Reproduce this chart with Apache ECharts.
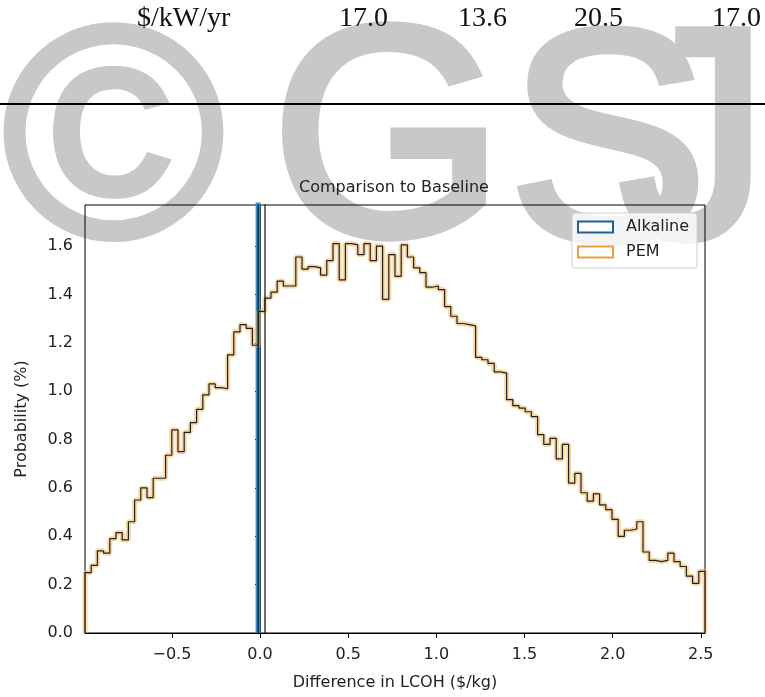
<!DOCTYPE html>
<html>
<head>
<meta charset="utf-8">
<script src="https://cdn.jsdelivr.net/npm/echarts@6/dist/echarts.min.js"></script>
<style>
  html, body { margin: 0; padding: 0; background: #fff; }
  #chart { width: 765px; height: 697px; }
</style>
</head>
<body>
<div id="chart"></div>
<script>
"use strict";

// top table row (cut off from the page above)
var tableCells = ["$/kW/yr", "17.0", "13.6", "20.5", "17.0"];
var tableLeft = [137, 339, 458, 574, 712];

// PEM histogram, probability (%) per bin
var pemStart = -0.993;
var pemBinWidth = 0.03517;
var pemValues = [
  0.25, 0.28, 0.34, 0.33, 0.39, 0.415, 0.385, 0.46, 0.55, 0.60,
  0.56, 0.64, 0.64, 0.735, 0.84, 0.75, 0.83, 0.87, 0.925, 0.985,
  1.03, 1.015, 1.01, 1.15, 1.245, 1.275, 1.26, 1.19, 1.33, 1.385,
  1.41, 1.455, 1.435, 1.435, 1.555, 1.505, 1.515, 1.51, 1.48, 1.54,
  1.61, 1.46, 1.61, 1.605, 1.565, 1.61, 1.54, 1.60, 1.38, 1.565,
  1.475, 1.605, 1.555, 1.51, 1.49, 1.43, 1.435, 1.42, 1.35, 1.31,
  1.28, 1.275, 1.27, 1.14, 1.13, 1.115, 1.08, 1.075, 0.965, 0.94,
  0.93, 0.915, 0.895, 0.82, 0.78, 0.805, 0.72, 0.78, 0.62, 0.66,
  0.58, 0.545, 0.575, 0.53, 0.51, 0.47, 0.40, 0.425, 0.43, 0.46,
  0.335, 0.30, 0.295, 0.30, 0.33, 0.295, 0.275, 0.235, 0.205, 0.255
];

// Alkaline = baseline, so all of it sits in one bin at 0
var alkalineEdges = [-0.011, 0.028];
var alkalineValue = 100;

var xTicks = [-0.5, 0.0, 0.5, 1.0, 1.5, 2.0, 2.5];
var yTicks = [0.0, 0.2, 0.4, 0.6, 0.8, 1.0, 1.2, 1.4, 1.6];
var xMax = 2.524;
var yMax = 1.77;

var FONT = "DejaVu Sans";

var chart = echarts.init(document.getElementById("chart"));

// histogram outline points (step: 'end')
function stepData(start, width, values) {
  var pts = [[start, 0]];
  values.forEach(function (v, i) {
    pts.push([start + i * width, v]);
  });
  var end = start + values.length * width;
  pts.push([end, values[values.length - 1]]);
  pts.push([end, 0]);
  return pts;
}

var pemData = stepData(pemStart, pemBinWidth, pemValues);
var alkData = [
  [alkalineEdges[0], 0], [alkalineEdges[0], alkalineValue],
  [alkalineEdges[1], alkalineValue], [alkalineEdges[1], 0]
];
var alkLeft = [[alkalineEdges[0], 0], [alkalineEdges[0], alkalineValue]];

function fmt(v) {
  return (v < 0 ? "\u2212" : "") + Math.abs(v).toFixed(1);
}

// watermark letters + table text
var graphics = [];
[["\u00A9", 3, 3], ["G", 271, 2], ["S", 508, 6], ["J", 619, 4]].forEach(function (w) {
  graphics.push({
    type: "text", z: -10, silent: true,
    x: w[1], y: w[2],
    style: {
      text: w[0], font: '300px "Liberation Sans"', fill: "#c8c8c8",
      stroke: "#c8c8c8", lineWidth: 8, verticalAlign: "top"
    }
  });
});
tableCells.forEach(function (t, i) {
  graphics.push({
    type: "text", z: 5, silent: true,
    x: tableLeft[i], y: 5,
    style: { text: t, font: '28px "Liberation Serif"', fill: "#111", verticalAlign: "top" }
  });
});
graphics.push({
  type: "line", z: 5, silent: true,
  shape: { x1: 0, y1: 104, x2: 765, y2: 104 },
  style: { stroke: "#000", lineWidth: 2 }
});

var option = {
  animation: false,
  backgroundColor: "#fff",
  graphic: graphics,
  title: {
    text: "Comparison to Baseline",
    left: 394, top: 180, textAlign: "center", padding: 0,
    textStyle: { fontFamily: FONT, fontSize: 16, fontWeight: "normal", color: "#222" }
  },
  legend: {
    left: 572, top: 213,
    orient: "vertical",
    padding: [6, 8, 8, 5],
    itemGap: 9,
    itemWidth: 35, itemHeight: 11,
    selectedMode: false,
    backgroundColor: "rgba(255,255,255,0.8)",
    borderColor: "#cfcfcf", borderWidth: 1, borderRadius: 3,
    textStyle: { fontFamily: FONT, fontSize: 16, color: "#222", padding: [0, 0, 0, 8] },
    data: [
      { name: "Alkaline", icon: "rect", itemStyle: { color: "#fff", borderColor: "#1f5f94", borderWidth: 2 } },
      { name: "PEM", icon: "rect", itemStyle: { color: "#fff", borderColor: "#e8a040", borderWidth: 2 } }
    ]
  },
  grid: {
    left: 85, right: 60, top: 205, bottom: 64,
    show: true, borderColor: "#000", borderWidth: 1, backgroundColor: "transparent"
  },
  xAxis: {
    type: "value", min: pemStart, max: xMax,
    name: "Difference in LCOH ($/kg)", nameLocation: "middle", nameGap: 42,
    nameTextStyle: { fontFamily: FONT, fontSize: 16, color: "#222" },
    axisLine: { show: true, onZero: false, lineStyle: { color: "#000", width: 1 } },
    axisTick: { show: true, customValues: xTicks, length: 5, lineStyle: { color: "#000" } },
    axisLabel: { customValues: xTicks, formatter: fmt, margin: 14, fontFamily: FONT, fontSize: 16, color: "#222" },
    splitLine: { show: false }
  },
  yAxis: {
    type: "value", min: 0, max: yMax,
    name: "Probability (%)", nameLocation: "middle", nameGap: 55, nameRotate: 90,
    nameTextStyle: { fontFamily: FONT, fontSize: 16, color: "#222" },
    axisLine: { show: true, lineStyle: { color: "#000", width: 1 } },
    axisTick: { show: true, customValues: yTicks, length: 5, lineStyle: { color: "#000" } },
    axisLabel: { customValues: yTicks, formatter: function (v) { return v.toFixed(1); }, margin: 12, fontFamily: FONT, fontSize: 16, color: "#222" },
    splitLine: { show: false }
  },
  series: [
    {
      name: "Alkaline", type: "line", data: alkLeft, showSymbol: false, silent: true, z: 2,
      lineStyle: { color: "#3a8cc4", width: 5 }, itemStyle: { color: "#3a8cc4" }
    },
    {
      name: "Alkaline", type: "line", data: alkData, showSymbol: false, silent: true, z: 3,
      lineStyle: { color: "#111", width: 1.2 }, itemStyle: { color: "#111" }
    },
    {
      name: "PEM", type: "line", step: "end", data: pemData, showSymbol: false, silent: true, z: 2,
      lineStyle: { color: "rgba(242,178,80,0.5)", width: 5 }, itemStyle: { color: "#e8a040" }
    },
    {
      name: "PEM", type: "line", step: "end", data: pemData, showSymbol: false, silent: true, z: 3,
      lineStyle: { color: "#222", width: 1.2 }, itemStyle: { color: "#222" }
    }
  ]
};

chart.setOption(option);
</script>
</body>
</html>
